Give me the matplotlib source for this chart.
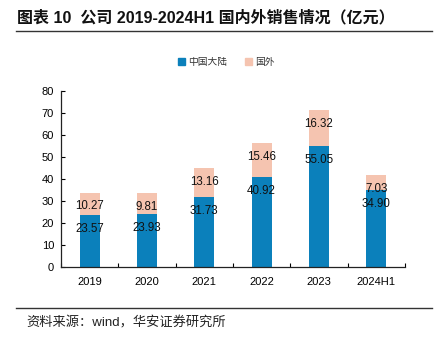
import matplotlib
matplotlib.use("Agg")
import matplotlib.pyplot as plt
import numpy as np
from matplotlib.patches import Rectangle
from matplotlib.lines import Line2D

plt.rcParams['font.family'] = ['Liberation Sans', 'Noto Sans CJK SC', 'DejaVu Sans']

categories = ["2019", "2020", "2021", "2022", "2023", "2024H1"]
domestic = [23.57, 23.93, 31.73, 40.92, 55.05, 34.90]
overseas = [10.27, 9.81, 13.16, 15.46, 16.32, 7.03]
series_names = ["中国大陆", "国外"]
title_text = "图表 10  公司 2019-2024H1 国内外销售情况（亿元）"
source_text = "资料来源：wind，华安证券研究所"

blue = "#0B80BB"
pink = "#F5C4B0"

W, H = 437, 344
fig = plt.figure(figsize=(W / 100, H / 100), dpi=100)
ax = fig.add_axes([61 / W, 1 - 267 / H, (405 - 61) / W, (267 - 91) / H])

x = np.arange(len(categories))
bw = 0.35
ax.bar(x, domestic, bw, color=blue, label=series_names[0], zorder=2)
ax.bar(x, overseas, bw, bottom=domestic, color=pink, label=series_names[1], zorder=2)

for xi, d, o in zip(x, domestic, overseas):
    ax.annotate(f"{d:.2f}", (xi, d), xytext=(0, -10), textcoords="offset points",
                ha="center", va="center", fontsize=8.3, color="#111111", zorder=3)
    ax.annotate(f"{o:.2f}", (xi, d + o), xytext=(0, -10), textcoords="offset points",
                ha="center", va="center", fontsize=8.3, color="#111111", zorder=3)

ax.set_xlim(-0.5, len(categories) - 0.5)
ax.set_ylim(0, 80)
ax.set_yticks(np.arange(0, 81, 10))
ax.set_xticks(x)
ax.set_xticklabels(categories)
ax.set_xticks(np.arange(-0.5, len(categories)), minor=True)
ax.tick_params(axis="x", which="major", length=0, pad=7, labelsize=8)
ax.tick_params(axis="x", which="minor", length=3, direction="in", width=0.8)
ax.tick_params(axis="y", length=3, direction="in", width=0.8, pad=5, labelsize=8)
for s in ["top", "right"]:
    ax.spines[s].set_visible(False)
for s in ["left", "bottom"]:
    ax.spines[s].set_linewidth(0.9)
    ax.spines[s].set_color("#222222")

handles = [Rectangle((0, 0), 1, 1, color=blue), Rectangle((0, 0), 1, 1, color=pink)]
fig.legend(handles, series_names, loc="center", bbox_to_anchor=(226 / W, 1 - 62 / H),
           ncol=2, frameon=False, fontsize=7, handlelength=0.75, handleheight=0.75,
           handletextpad=0.3, columnspacing=1.8, labelcolor="#333333")

fig.text(17 / W, 1 - 18 / H, title_text, fontsize=11.5, fontweight="bold",
         ha="left", va="center", color="#111111")
fig.add_artist(Line2D([16 / W, 432 / W], [1 - 30.5 / H] * 2, color="#333333", lw=1.0))
fig.add_artist(Line2D([16 / W, 432 / W], [1 - 308 / H] * 2, color="#333333", lw=1.0))
fig.text(26 / W, 1 - 323 / H, source_text, fontsize=9.5, ha="left", va="center", color="#222222")

fig.savefig("out.png", dpi=100)
